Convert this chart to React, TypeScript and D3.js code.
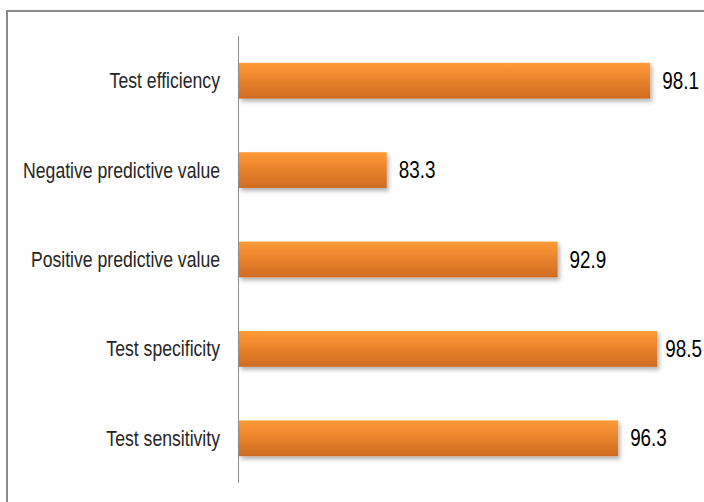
import React, { useRef, useEffect } from 'react';
import * as d3 from 'd3';

// bottom to top, as in the original chart
const categories = [
  'Test sensitivity',
  'Test specificity',
  'Positive predictive value',
  'Negative predictive value',
  'Test efficiency',
];
const values = [96.3, 98.5, 92.9, 83.3, 98.1];
const xDomain = [75, 100];

// no narrow font installed: squeeze a regular one horizontally
const FONT = "'Liberation Sans', Arial, sans-serif";
const NARROW = 0.82;

const App = () => {
  const svgRef = useRef<SVGSVGElement>(null);
  const width = 704;
  const height = 502;

  useEffect(() => {
    const svg = d3.select(svgRef.current);
    svg.selectAll('*').remove();

    const defs = svg.append('defs');
    const grad = defs.append('linearGradient')
      .attr('id', 'barGrad')
      .attr('x1', 0).attr('y1', 0).attr('x2', 0).attr('y2', 1);
    grad.append('stop').attr('offset', '0%').attr('stop-color', '#ff9a38');
    grad.append('stop').attr('offset', '100%').attr('stop-color', '#cf6b20');

    const shadow = defs.append('filter')
      .attr('id', 'barShadow')
      .attr('x', '-5%').attr('y', '-20%')
      .attr('width', '115%').attr('height', '160%');
    shadow.append('feDropShadow')
      .attr('dx', 2).attr('dy', 3)
      .attr('stdDeviation', 2)
      .attr('flood-color', '#000')
      .attr('flood-opacity', 0.3);

    // chart frame (right and bottom edges fall outside the picture)
    svg.append('rect')
      .attr('x', 7).attr('y', 11)
      .attr('width', 760).attr('height', 560)
      .attr('fill', 'none')
      .attr('stroke', '#8a8a8a')
      .attr('stroke-width', 2);

    const x = d3.scaleLinear().domain(xDomain).range([239, 684]);
    const y = d3.scaleBand<string>()
      .domain(categories)
      .range([483, 36])
      .paddingInner(0.6)
      .paddingOuter(0.3);

    const data = categories.map((c, i) => ({ name: c, value: values[i] }));
    const yMid = (d: { name: string }) => y(d.name)! + y.bandwidth() / 2;

    svg.append('g')
      .selectAll('rect')
      .data(data)
      .join('rect')
      .attr('x', x(xDomain[0]))
      .attr('y', (d) => y(d.name)!)
      .attr('width', (d) => x(d.value) - x(xDomain[0]))
      .attr('height', y.bandwidth())
      .attr('fill', 'url(#barGrad)')
      .attr('filter', 'url(#barShadow)');

    // vertical category axis
    svg.append('line')
      .attr('x1', 238.5).attr('x2', 238.5)
      .attr('y1', 36).attr('y2', 483)
      .attr('stroke', '#8c8c8c')
      .attr('stroke-width', 1);

    svg.append('g')
      .selectAll('text')
      .data(data)
      .join('text')
      .attr('transform', (d) => `translate(220,${yMid(d)}) scale(${NARROW},1)`)
      .attr('dy', '0.35em')
      .attr('text-anchor', 'end')
      .style('font-family', FONT)
      .style('font-size', '21.5px')
      .attr('fill', '#262626')
      .text((d) => d.name);

    const labels = svg.append('g')
      .selectAll('text')
      .data(data)
      .join('text')
      .attr('dy', '0.35em')
      .style('font-family', FONT)
      .style('font-size', '23px')
      .attr('fill', '#000')
      .text((d) => d.value.toFixed(1));

    // place value labels, keeping them inside the frame
    labels.each(function (d) {
      const t = this as SVGTextElement;
      const w = t.getComputedTextLength() * NARROW;
      let x0 = x(d.value) + 12;
      if (x0 + w > 702) x0 = 702 - w;
      t.setAttribute('transform', `translate(${x0},${yMid(d)}) scale(${NARROW},1)`);
    });
  }, []);

  return (
    <svg
      ref={svgRef}
      width={width}
      height={height}
      style={{ position: 'absolute', left: 0, top: 0, background: '#fff' }}
    ></svg>
  );
};

export default App;
